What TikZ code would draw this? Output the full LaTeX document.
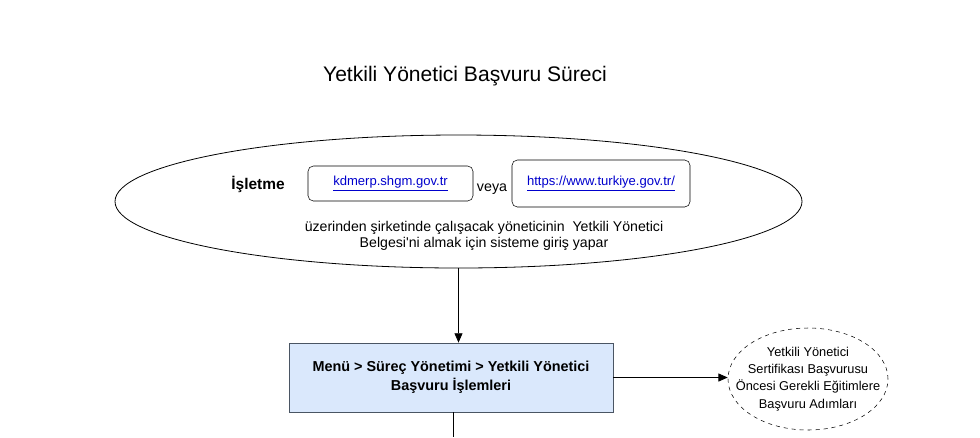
\documentclass[tikz,border=0pt]{standalone}
\usepackage{fontspec}
\setmainfont{Liberation Sans}[Ligatures=TeXOff]
\usetikzlibrary{arrows.meta, positioning, shapes.geometric}
\definecolor{linkblue}{HTML}{0000CC}
\definecolor{menufill}{HTML}{DAE8FC}
\definecolor{menuline}{HTML}{4A5563}

\begin{document}
\begin{tikzpicture}[
    x=0.75pt, y=-0.75pt,
    linkbox/.style={draw, rounded corners=4pt, inner sep=0pt, font=\fontsize{9.8}{11}\selectfont},
    oval/.style={draw, ellipse, inner sep=0pt},
    arr/.style={-{Triangle[length=7pt, width=6pt]}, semithick}
]
    \useasboundingbox (0,0) rectangle (980,437);

    % --- Title ---
    \node[font=\fontsize{15.8}{18}\selectfont] (title) at (465,76) {Yetkili Yönetici Başvuru Süreci};

    % --- Top ellipse with links ---
    \node[oval, minimum width=515.25pt, minimum height=99.75pt, semithick] (login) at (458.5,201.5) {};
    \node[font=\fontsize{11.6}{13}\selectfont\bfseries] (isletme) at (258,184) {İşletme};
    \node[linkbox, minimum width=123.75pt, minimum height=26.25pt] (kdmerp) at (390.5,183.5)
        {\color{linkblue}\underline{kdmerp.shgm.gov.tr}};
    \node[font=\fontsize{10.7}{12}\selectfont] (veya) at (492,189) {veya};
    \node[linkbox, minimum width=133.5pt, minimum height=35.25pt] (turkiye) at (601,183.5)
        {\color{linkblue}\underline{https://www.turkiye.gov.tr/}};
    \node[font=\fontsize{10.6}{12}\selectfont, align=center] (giris) at (484,236)
        {üzerinden şirketinde çalışacak yöneticinin\ \ Yetkili Yönetici\\Belgesi'ni almak için sisteme giriş yapar};

    % --- Menu box ---
    \node[draw=menuline, fill=menufill, semithick, minimum width=243pt, minimum height=51.75pt,
          align=center, font=\fontsize{10.8}{14.2}\selectfont\bfseries] (menu) at (451,377.5)
        {Menü > Süreç Yönetimi > Yetkili Yönetici\\Başvuru İşlemleri};

    % --- Dashed ellipse on the right ---
    \node[oval, dashed, inner xsep=-16pt, inner ysep=0pt, minimum width=120pt, minimum height=76.5pt,
          align=center, font=\fontsize{9.6}{12.9}\selectfont] (egitim) at (808,379)
        {Yetkili Yönetici\\Sertifikası Başvurusu\\Öncesi Gerekli Eğitimlere\\Başvuru Adımları};

    % --- Arrows ---
    \coordinate (below) at (453,437);
    \draw[arr] (login.south) -- (login.south |- menu.north);
    \draw[arr] (menu.east) -- (menu.east -| egitim.west);
    \draw[semithick] (below |- menu.south) -- (below);
\end{tikzpicture}
\end{document}
